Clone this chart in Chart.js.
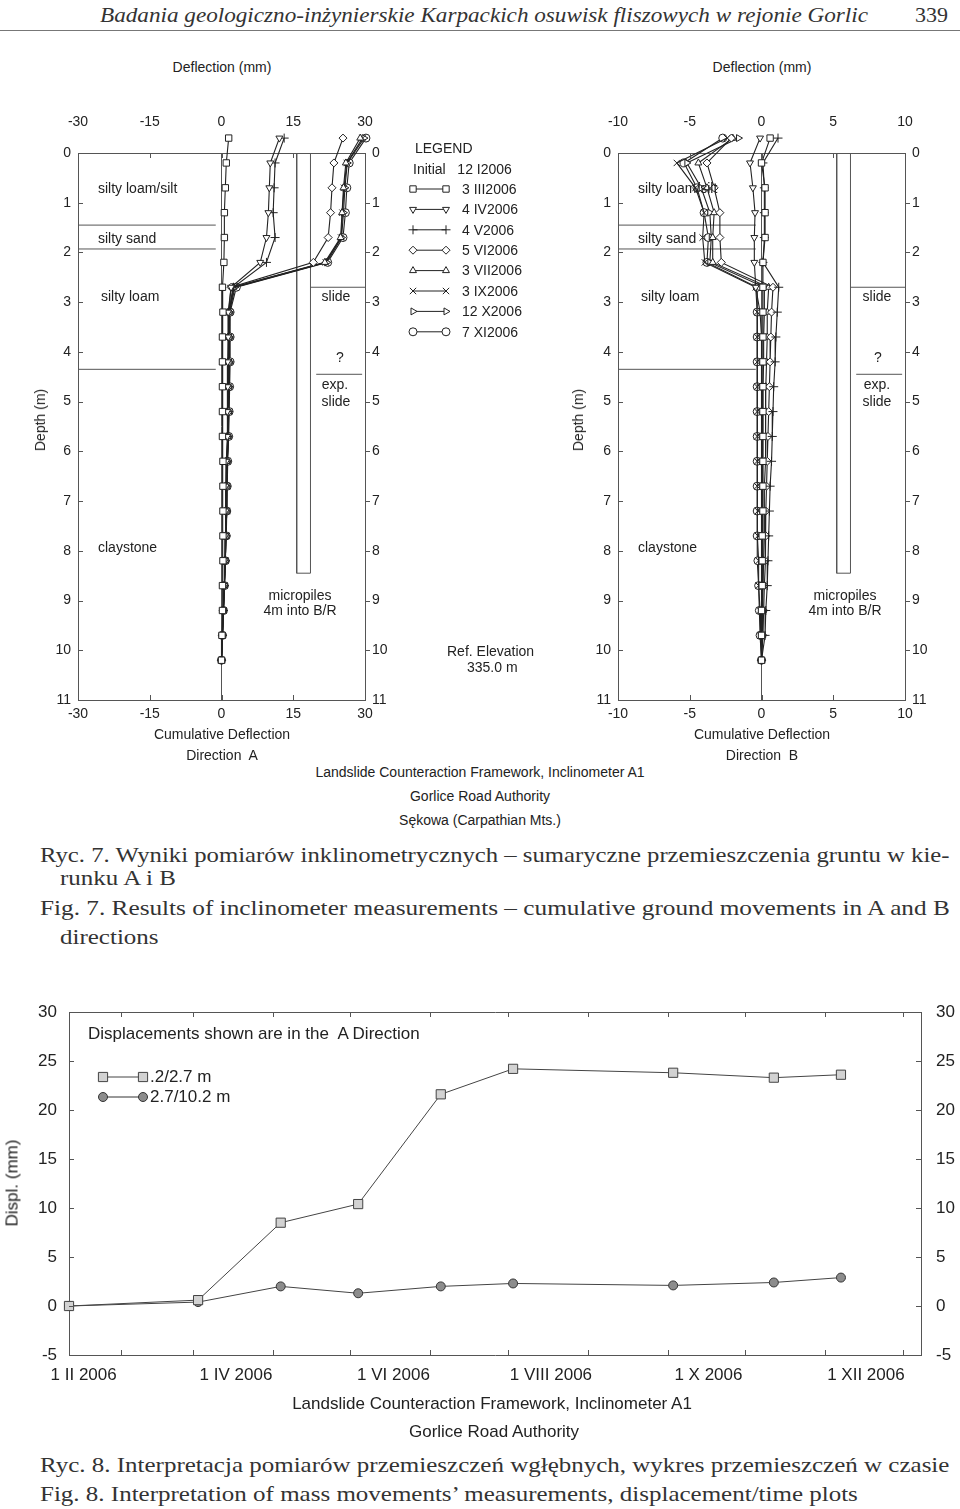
<!DOCTYPE html>
<html>
<head>
<meta charset="utf-8">
<script src="https://cdn.jsdelivr.net/npm/chart.js"></script>
<style>
body { margin: 0; background: #fff; width: 960px; height: 1509px; position: relative; overflow: hidden;
       font-family: "Liberation Sans", Arial, sans-serif; color: #222; }
.t { position: absolute; white-space: nowrap; font-size: 14px; line-height: 1; transform: translateY(-50%); }
.c { transform: translate(-50%, -50%); text-align: center; }
.b { font-size: 17px; }
.serif { font-family: "Liberation Serif", "Times New Roman", serif; font-size: 22px; color: #333; transform-origin: left center; }
.rule { position: absolute; left: 0; top: 30px; width: 960px; height: 1px; background: #777; }
canvas { position: absolute; }
</style>
</head>
<body>

<!-- naglowek strony -->
<div class="t serif fit" data-w="768" style="left:100px;top:15px;font-style:italic">Badania geologiczno-inżynierskie Karpackich osuwisk fliszowych w rejonie Gorlic</div>
<div class="t serif" style="left:915px;top:15px">339</div>
<div class="rule"></div>

<canvas id="profA" width="580" height="640" style="left:0;top:90px"></canvas>
<canvas id="profB" width="400" height="640" style="left:560px;top:90px"></canvas>
<canvas id="timeChart" width="960" height="420" style="left:0;top:980px"></canvas>

<!-- opisy wykresu A -->
<div class="t c" style="left:222px;top:67px">Deflection (mm)</div>
<div class="t c" style="left:40px;top:420px;transform:translate(-50%,-50%) rotate(-90deg)">Depth (m)</div>
<div class="t c" style="left:222px;top:734px">Cumulative Deflection</div>
<div class="t c" style="left:222px;top:755px">Direction&nbsp; A</div>
<div class="t" style="left:98px;top:188px">silty loam/silt</div>
<div class="t" style="left:98px;top:238px">silty sand</div>
<div class="t" style="left:101px;top:296px">silty loam</div>
<div class="t" style="left:98px;top:547px">claystone</div>
<div class="t c" style="left:336px;top:296px">slide</div>
<div class="t c" style="left:340px;top:357px">?</div>
<div class="t c" style="left:335px;top:384px">exp.</div>
<div class="t c" style="left:336px;top:401px">slide</div>
<div class="t c" style="left:300px;top:595px">micropiles</div>
<div class="t c" style="left:300px;top:610px">4m into B/R</div>

<!-- opisy wykresu B -->
<div class="t c" style="left:762px;top:67px">Deflection (mm)</div>
<div class="t c" style="left:578px;top:420px;transform:translate(-50%,-50%) rotate(-90deg)">Depth (m)</div>
<div class="t c" style="left:762px;top:734px">Cumulative Deflection</div>
<div class="t c" style="left:762px;top:755px">Direction&nbsp; B</div>
<div class="t" style="left:638px;top:188px">silty loam/silt</div>
<div class="t" style="left:638px;top:238px">silty sand</div>
<div class="t" style="left:641px;top:296px">silty loam</div>
<div class="t" style="left:638px;top:547px">claystone</div>
<div class="t c" style="left:877px;top:296px">slide</div>
<div class="t c" style="left:878px;top:357px">?</div>
<div class="t c" style="left:877px;top:384px">exp.</div>
<div class="t c" style="left:877px;top:401px">slide</div>
<div class="t c" style="left:845px;top:595px">micropiles</div>
<div class="t c" style="left:845px;top:610px">4m into B/R</div>

<!-- legenda srodkowa -->
<div class="t" style="left:415px;top:148px">LEGEND</div>
<div class="t" style="left:413px;top:169px">Initial&nbsp;&nbsp; 12 I2006</div>
<div class="t" style="left:447px;top:651px">Ref. Elevation</div>
<div class="t" style="left:467px;top:667px">335.0 m</div>
<div class="t c" style="left:480px;top:772px">Landslide Counteraction Framework, Inclinometer A1</div>
<div class="t c" style="left:480px;top:796px">Gorlice Road Authority</div>
<div class="t c" style="left:480px;top:820px">Sękowa (Carpathian Mts.)</div>

<!-- podpisy ryc. 7 -->
<div class="t serif fit" data-w="910" style="left:40px;top:855px">Ryc. 7. Wyniki pomiarów inklinometrycznych – sumaryczne przemieszczenia gruntu w kie-</div>
<div class="t serif fitk" style="left:60px;top:878px">runku A i B</div>
<div class="t serif fit" data-w="910" style="left:40px;top:908px">Fig. 7. Results of inclinometer measurements – cumulative ground movements in A and B</div>
<div class="t serif fitk" style="left:60px;top:937px">directions</div>

<!-- opisy wykresu czasowego -->
<div class="t b" style="left:88px;top:1033px">Displacements shown are in the&nbsp; A Direction</div>
<div class="t b" style="left:150px;top:1076px">.2/2.7 m</div>
<div class="t b" style="left:150px;top:1096px">2.7/10.2 m</div>
<div class="t b c" style="left:12px;top:1183px;transform:translate(-50%,-50%) rotate(-90deg)">Displ. (mm)</div>
<div class="t b c" style="left:492px;top:1403px">Landslide Counteraction Framework, Inclinometer A1</div>
<div class="t b c" style="left:494px;top:1431px">Gorlice Road Authority</div>
<div class="t serif fit" data-w="910" style="left:40px;top:1465px">Ryc. 8. Interpretacja pomiarów przemieszczeń wgłębnych, wykres przemieszczeń w czasie</div>
<div class="t serif fitk" style="left:40px;top:1494px">Fig. 8. Interpretation of mass movements’ measurements, displacement/time plots</div>

<script>
// --- Dane: profile inklinometru (glebokosc w m, przemieszczenie w mm) ---
const depths = [-0.3, 0.2, 0.7, 1.2, 1.7, 2.2, 2.7, 3.2, 3.7, 4.2, 4.7, 5.2, 5.7, 6.2, 6.7, 7.2, 7.7, 8.2, 8.7, 9.2, 9.7, 10.2];
const seriesNames = ['3 III2006', '4 IV2006', '4 V2006', '5 VI2006', '3 VII2006', '3 IX2006', '12 X2006', '7 XI2006'];

// kierunek A
const aMar = [1.5, 1.0, 0.8, 0.6, 0.6, 0.5, 0.2, 0.3, 0.2, 0.2, 0.2, 0.2, 0.2, 0.3, 0.3, 0.3, 0.3, 0.3, 0.2, 0.2, 0.1, 0.0];
const aApr = [12.1, 10.2, 10.0, 9.8, 9.4, 8.1, 2.0, 1.4, 1.4, 1.3, 1.3, 1.2, 1.2, 1.0, 0.9, 0.9, 0.8, 0.7, 0.6, 0.4, 0.2, 0.0];
const aMay = [13.1, 11.2, 11.0, 10.8, 11.2, 9.4, 2.5, 1.5, 1.5, 1.4, 1.4, 1.3, 1.3, 1.1, 1.0, 1.0, 0.9, 0.8, 0.6, 0.4, 0.2, 0.0];
const aJun = [25.4, 23.5, 23.1, 22.8, 22.3, 19.2, 2.0, 1.5, 1.5, 1.5, 1.4, 1.4, 1.3, 1.1, 1.0, 1.0, 0.9, 0.8, 0.6, 0.4, 0.2, 0.0];
const aJul = [29.0, 26.0, 25.5, 25.2, 24.9, 21.6, 2.4, 1.6, 1.6, 1.6, 1.5, 1.5, 1.4, 1.2, 1.1, 1.1, 0.9, 0.8, 0.6, 0.4, 0.2, 0.0];
const aSep = [29.5, 26.2, 25.6, 25.3, 25.0, 21.8, 2.6, 1.7, 1.6, 1.6, 1.5, 1.5, 1.4, 1.2, 1.1, 1.1, 0.9, 0.8, 0.6, 0.4, 0.2, 0.0];
const aOct = [29.8, 26.3, 25.8, 25.5, 25.1, 22.0, 2.8, 1.7, 1.7, 1.7, 1.6, 1.5, 1.4, 1.2, 1.1, 1.1, 0.9, 0.8, 0.6, 0.4, 0.2, 0.0];
const aNov = [30.2, 26.7, 26.2, 25.9, 25.4, 22.2, 3.1, 1.8, 1.8, 1.8, 1.7, 1.6, 1.5, 1.3, 1.2, 1.1, 1.0, 0.8, 0.6, 0.4, 0.2, 0.0];

// kierunek B
const bMar = [0.6, 0.0, 0.25, 0.25, 0.25, 0.1, 0.1, 0.1, 0.1, 0.1, 0.1, 0.1, 0.1, 0.1, 0.1, 0.1, 0.05, 0.05, 0.05, 0.0, 0.0, 0.0];
const bApr = [-0.1, -0.8, -0.6, -0.45, -0.5, -0.5, -0.4, -0.1, 0.0, 0.0, 0.0, 0.0, 0.0, 0.0, 0.0, 0.0, 0.0, 0.0, 0.0, 0.0, 0.0, 0.0];
const bMay = [1.15, 0.1, 0.2, 0.2, 0.2, 0.1, 1.2, 1.1, 1.0, 0.95, 0.85, 0.8, 0.75, 0.7, 0.6, 0.55, 0.5, 0.45, 0.4, 0.3, 0.25, 0.0];
const bJun = [-2.1, -3.8, -3.3, -2.9, -2.9, -2.8, 0.8, 0.7, 0.65, 0.6, 0.55, 0.5, 0.45, 0.4, 0.35, 0.3, 0.3, 0.25, 0.2, 0.15, 0.1, 0.0];
const bJul = [-2.0, -4.4, -3.8, -3.3, -3.4, -3.4, 0.5, 0.4, 0.4, 0.35, 0.3, 0.3, 0.3, 0.25, 0.2, 0.2, 0.2, 0.15, 0.1, 0.1, 0.05, 0.0];
const bSep = [-2.4, -5.9, -4.6, -4.0, -4.1, -3.95, -0.4, -0.3, -0.3, -0.3, -0.3, -0.3, -0.3, -0.3, -0.3, -0.25, -0.25, -0.2, -0.2, -0.1, -0.05, 0.0];
const bOct = [-1.6, -5.2, -4.2, -3.6, -3.5, -3.6, 0.2, 0.2, 0.15, 0.15, 0.1, 0.1, 0.1, 0.1, 0.1, 0.1, 0.05, 0.05, 0.05, 0.0, 0.0, 0.0];
const bNov = [-2.7, -5.4, -4.5, -4.0, -3.7, -3.8, -0.3, -0.3, -0.3, -0.3, -0.3, -0.3, -0.3, -0.3, -0.3, -0.3, -0.3, -0.25, -0.2, -0.15, -0.1, 0.0];

// granice warstw i mikropali (m)
const layerDepths = [1.45, 1.93, 4.35];
const pileBottom = 8.45;
const slideTop = 2.7;
const slideBase = 4.45;

// --- Dane: wykres czasowy ---
const measureDates = ['2006-01-12', '2006-03-03', '2006-04-04', '2006-05-04', '2006-06-05', '2006-07-03', '2006-09-03', '2006-10-12', '2006-11-07'];
const shallowDispl = [0, 0.6, 8.5, 10.4, 21.6, 24.2, 23.8, 23.3, 23.6];   // .2/2.7 m
const deepDispl = [0, 0.4, 2.0, 1.3, 2.0, 2.3, 2.1, 2.4, 2.9];           // 2.7/10.2 m
const monthStarts = ['2006-02-01', '2006-03-01', '2006-04-01', '2006-05-01', '2006-06-01', '2006-07-01', '2006-08-01', '2006-09-01', '2006-10-01', '2006-11-01', '2006-12-01'];
const dateLabels = ['1 II 2006', '1 IV 2006', '1 VI 2006', '1 VIII 2006', '1 X 2006', '1 XII 2006'];
const timeAxisEnd = '2006-12-08';

// --- Style ---
const INK = '#222';
const FONT = '"Liberation Sans", Arial, sans-serif';
const markerStyle = [
    { pointStyle: 'rect', rotation: 0, radius: 4.5 },
    { pointStyle: 'triangle', rotation: 180, radius: 4 },
    { pointStyle: 'cross', rotation: 0, radius: 4.5 },
    { pointStyle: 'rectRot', rotation: 0, radius: 4 },
    { pointStyle: 'triangle', rotation: 0, radius: 4 },
    { pointStyle: 'crossRot', rotation: 0, radius: 4.5 },
    { pointStyle: 'triangle', rotation: 90, radius: 4 },
    { pointStyle: 'circle', rotation: 0, radius: 4 }
];

function dayOf(s) {
    const d = new Date(s + 'T00:00:00Z');
    return (d - Date.UTC(d.getUTCFullYear(), 0, 1)) / 864e5;
}

function drawMarker(ctx, m, x, y, fill, stroke) {
    ctx.save();
    ctx.fillStyle = fill;
    ctx.strokeStyle = stroke;
    ctx.lineWidth = 1;
    if (Chart.helpers && Chart.helpers.drawPoint) {
        Chart.helpers.drawPoint(ctx, { pointStyle: m.pointStyle, rotation: m.rotation, radius: m.radius, borderWidth: 1 }, x, y);
    } else {
        ctx.beginPath(); ctx.arc(x, y, m.radius, 0, Math.PI * 2); ctx.fill(); ctx.stroke();
    }
    ctx.restore();
}

// pomiar 0.3 m nad glowica rury lezy nad ramka - poszerzamy obszar tylko na czas rysowania serii
const widenArea = {
    id: 'widenArea',
    beforeDatasetsDraw(chart) {
        chart.$savedArea = chart.chartArea;
        chart.chartArea = Object.assign({}, chart.chartArea, { top: chart.chartArea.top - 40 });
    },
    afterDatasetsDraw(chart) {
        if (chart.$savedArea) chart.chartArea = chart.$savedArea;
    }
};

// male kreski podzialki skierowane do wnetrza ramki
const innerTicks = {
    id: 'innerTicks',
    afterDraw(chart, args, opts) {
        const { ctx, chartArea: a } = chart;
        ctx.save();
        ctx.strokeStyle = '#555';
        ctx.lineWidth = 1;
        ctx.beginPath();
        Object.keys(opts).forEach(id => {
            const s = chart.scales[id];
            const len = opts[id];
            if (!s || typeof len !== 'number') return;
            s.ticks.forEach(t => {
                const p = Math.round(s.getPixelForValue(t.value)) + 0.5;
                if (s.isHorizontal()) {
                    if (p <= a.left + 2 || p >= a.right - 2) return;
                    const y0 = s.position === 'top' ? a.top : a.bottom;
                    const dir = s.position === 'top' ? 1 : -1;
                    ctx.moveTo(p, y0); ctx.lineTo(p, y0 + dir * len);
                } else {
                    if (p <= a.top + 2 || p >= a.bottom - 2) return;
                    const x0 = s.position === 'left' ? a.left : a.right;
                    const dir = s.position === 'left' ? 1 : -1;
                    ctx.moveTo(x0, p); ctx.lineTo(x0 + dir * len, p);
                }
            });
        });
        ctx.stroke();
        ctx.restore();
    }
};

// legenda rysowana na plotnie wykresu
const customLegend = {
    id: 'customLegend',
    afterDraw(chart, args, opts) {
        if (!opts.items) return;
        const ctx = chart.ctx;
        opts.items.forEach((it, i) => {
            const y = opts.y + i * opts.dy;
            ctx.save();
            ctx.strokeStyle = it.stroke;
            ctx.lineWidth = 1;
            ctx.beginPath();
            ctx.moveTo(opts.x0, y); ctx.lineTo(opts.x1, y);
            ctx.stroke();
            ctx.restore();
            drawMarker(ctx, it.marker, opts.x0, y, it.fill, it.stroke);
            drawMarker(ctx, it.marker, opts.x1, y, it.fill, it.stroke);
            if (it.label) {
                ctx.save();
                ctx.fillStyle = '#222';
                ctx.font = opts.font;
                ctx.textBaseline = 'middle';
                ctx.fillText(it.label, opts.tx, y + 1);
                ctx.restore();
            }
        });
    }
};

function makeProfile(canvasId, xMin, xMax, step, series, pad, legend) {
    const range = xMax - xMin;
    const lineEnd = -0.02 * range;
    const pileL = xMin + 0.762 * range;
    const pileR = xMin + 0.810 * range;
    const guide = (pts) => ({
        data: pts, showLine: true, pointRadius: 0, borderColor: '#555', borderWidth: 1,
        order: 10, clip: true
    });
    const datasets = [];
    layerDepths.forEach(d => datasets.push(guide([{ x: xMin, y: d }, { x: lineEnd, y: d }])));
    datasets.push(guide([{ x: pileL, y: 0 }, { x: pileL, y: pileBottom }, { x: pileR, y: pileBottom }, { x: pileR, y: 0 }]));
    datasets.push(guide([{ x: pileR, y: slideTop }, { x: xMax, y: slideTop }]));
    datasets.push(guide([{ x: pileR + 0.02 * range, y: slideBase }, { x: xMax - 0.01 * range, y: slideBase }]));

    series.forEach((vals, i) => {
        const m = markerStyle[i];
        datasets.push({
            label: seriesNames[i],
            data: vals.map((v, k) => ({ x: v, y: depths[k] })),
            showLine: true,
            borderColor: INK,
            borderWidth: 1.1,
            pointStyle: m.pointStyle,
            pointRotation: m.rotation,
            pointRadius: m.radius,
            pointBorderColor: INK,
            pointBackgroundColor: '#fff',
            pointBorderWidth: 1,
            clip: false,
            order: 1
        });
    });

    const tickFont = { family: FONT, size: 14 };
    const xCommon = {
        type: 'linear', min: xMin, max: xMax,
        ticks: { stepSize: step, color: '#222', font: tickFont, maxRotation: 0 },
        border: { display: true, color: '#555', width: 1 }
    };
    const yCommon = {
        type: 'linear', min: 0, max: 11, reverse: true,
        ticks: { stepSize: 1, color: '#222', font: tickFont, padding: 7 },
        grid: { display: false, drawTicks: false },
        border: { display: true, color: '#555', width: 1 }
    };

    return new Chart(document.getElementById(canvasId), {
        type: 'scatter',
        data: { datasets },
        options: {
            responsive: false,
            animation: false,
            events: [],
            layout: { padding: pad },
            scales: {
                x: Object.assign({}, xCommon, {
                    position: 'bottom',
                    ticks: Object.assign({}, xCommon.ticks, { padding: 6 }),
                    grid: { drawTicks: false, color: c => (c.tick && c.tick.value === 0 ? '#555' : 'rgba(0,0,0,0)') },
                    afterFit: s => { s.height = 30; }
                }),
                x2: Object.assign({}, xCommon, {
                    position: 'top',
                    ticks: Object.assign({}, xCommon.ticks, { padding: 22 }),
                    grid: { display: false, drawTicks: false },
                    afterFit: s => { s.height = 40; }
                }),
                y: Object.assign({}, yCommon, { position: 'left', afterFit: s => { s.width = 40; } }),
                y2: Object.assign({}, yCommon, { position: 'right', afterFit: s => { s.width = 40; } })
            },
            plugins: {
                legend: { display: false },
                tooltip: { enabled: false },
                innerTicks: { x: 5, x2: 5, y: 5, y2: -5 },
                customLegend: legend || {}
            }
        },
        plugins: [widenArea, innerTicks, customLegend]
    });
}

makeProfile('profA', -30, 30, 15, [aMar, aApr, aMay, aJun, aJul, aSep, aOct, aNov],
    { left: 38, right: 175, top: 23, bottom: 0 },
    {
        x0: 413, x1: 446, tx: 462, y: 99, dy: 20.4, font: '14px ' + FONT,
        items: seriesNames.map((n, i) => ({ label: n, marker: markerStyle[i], fill: '#fff', stroke: INK }))
    });

makeProfile('profB', -10, 10, 5, [bMar, bApr, bMay, bJun, bJul, bSep, bOct, bNov],
    { left: 18, right: 15, top: 23, bottom: 0 }, null);

// --- wykres przemieszczen w czasie ---
const days = measureDates.map(dayOf);
const monthDays = monthStarts.map(dayOf);
const bigFont = { family: FONT, size: 17 };
const squareMarker = { pointStyle: 'rect', rotation: 0, radius: 6.5 };
const roundMarker = { pointStyle: 'circle', rotation: 0, radius: 4.5 };

new Chart(document.getElementById('timeChart'), {
    type: 'scatter',
    data: {
        datasets: [
            {
                label: '.2/2.7 m',
                data: shallowDispl.map((v, i) => ({ x: days[i], y: v })),
                showLine: true, borderColor: '#444', borderWidth: 1,
                pointStyle: 'rect', pointRadius: 6.5, pointBackgroundColor: '#d2d2d2',
                pointBorderColor: '#444', pointBorderWidth: 1, clip: false
            },
            {
                label: '2.7/10.2 m',
                data: deepDispl.map((v, i) => ({ x: days[i], y: v })),
                showLine: true, borderColor: '#444', borderWidth: 1,
                pointStyle: 'circle', pointRadius: 4.5, pointBackgroundColor: '#8c8c8c',
                pointBorderColor: '#333', pointBorderWidth: 1, clip: false
            }
        ]
    },
    options: {
        responsive: false,
        animation: false,
        events: [],
        layout: { padding: { left: 19, right: 4, top: 22, bottom: 5 } },
        scales: {
            x: {
                type: 'linear', position: 'bottom', min: days[0], max: dayOf(timeAxisEnd),
                afterBuildTicks: s => { s.ticks = monthDays.map(v => ({ value: v })); },
                ticks: {
                    autoSkip: false, maxRotation: 0, color: '#222', font: bigFont, padding: 10, labelOffset: -37,
                    callback: (v, i) => (i % 2 === 0 ? dateLabels[i / 2] : '')
                },
                grid: { display: false, drawTicks: false },
                border: { display: true, color: '#555' },
                afterFit: s => { s.height = 40; }
            },
            x2: {
                type: 'linear', position: 'top', min: days[0], max: dayOf(timeAxisEnd),
                afterBuildTicks: s => { s.ticks = monthDays.map(v => ({ value: v })); },
                ticks: { display: false },
                grid: { display: false, drawTicks: false },
                border: { display: true, color: '#555' },
                afterFit: s => { s.height = 10; }
            },
            y: {
                type: 'linear', position: 'left', min: -5, max: 30,
                ticks: { stepSize: 5, color: '#222', font: bigFont, padding: 12 },
                grid: { display: false, drawTicks: false },
                border: { display: true, color: '#555' },
                afterFit: s => { s.width = 50; }
            },
            y2: {
                type: 'linear', position: 'right', min: -5, max: 30,
                ticks: { stepSize: 5, color: '#222', font: bigFont, padding: 15 },
                grid: { display: false, drawTicks: false },
                border: { display: true, color: '#555' },
                afterFit: s => { s.width = 35; }
            }
        },
        plugins: {
            legend: { display: false },
            tooltip: { enabled: false },
            innerTicks: { x: 5, x2: 5, y: 5, y2: 5 },
            customLegend: {
                x0: 103, x1: 143, tx: 9999, y: 97, dy: 20, font: '17px ' + FONT,
                items: [
                    { marker: squareMarker, fill: '#d2d2d2', stroke: '#444' },
                    { marker: roundMarker, fill: '#8c8c8c', stroke: '#333' }
                ]
            }
        }
    },
    plugins: [innerTicks, customLegend]
});

// dopasowanie szerokosci linii podpisow (skladanie tekstu jak w druku)
let k = 1;
document.querySelectorAll('.fit').forEach(el => {
    const w = +el.dataset.w;
    const s = w / el.scrollWidth;
    if (el.textContent.startsWith('Ryc. 8')) k = s;
    el.style.transform = 'translateY(-50%) scaleX(' + s.toFixed(3) + ')';
});
document.querySelectorAll('.fitk').forEach(el => {
    el.style.transform = 'translateY(-50%) scaleX(' + k.toFixed(3) + ')';
});
</script>
</body>
</html>
